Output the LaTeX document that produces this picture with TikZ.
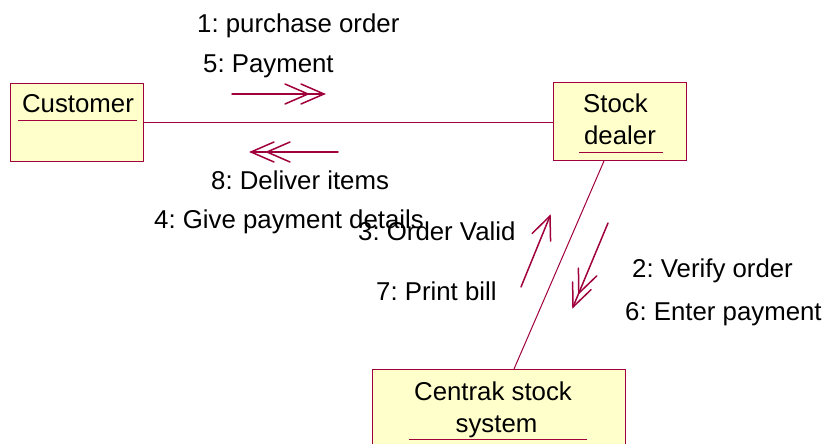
\documentclass[tikz,border=0pt]{standalone}
\usepackage{fontspec}
\setmainfont{Liberation Sans}
\frenchspacing
\usetikzlibrary{calc}
\definecolor{umlred}{RGB}{160,0,60}
\definecolor{umlfill}{RGB}{255,255,204}
\newcommand{\msgchev}[2]{\draw[msg] ($(#1)!23pt!(#2)!10pt!90:(#1)$) -- (#1) -- ($(#1)!23pt!(#2)!10pt!-90:(#1)$);}
\begin{document}
\begin{tikzpicture}[x=1pt,y=-1pt,
  objbox/.style={draw=umlred,fill=umlfill,line width=1.2pt,rectangle,inner sep=0pt,anchor=north west},
  link/.style={draw=umlred,line width=1pt},
  msg/.style={draw=umlred,line width=1.5pt,line cap=round,line join=miter},
  lbl/.style={inner sep=0pt,font=\fontsize{25.8}{30}\selectfont},
  uline/.style={draw=umlred,line width=1pt}]
\useasboundingbox (0,0) rectangle (831,444);
% objects
\node[objbox,minimum width=133pt,minimum height=78pt] (customer) at (10,83) {};
\node[objbox,minimum width=133pt,minimum height=78pt] (dealer) at (553,82) {};
\node[objbox,minimum width=253pt,minimum height=90pt] (centrak) at (372,369) {};
% object names
\node[lbl,anchor=base] (tcust) at (78,113) {Customer};
\node[lbl,anchor=base] (tstock) at (615.5,113) {Stock};
\node[lbl,anchor=base] (tdealer) at (620,145) {dealer};
\node[lbl,anchor=base] (tcentrak) at (493,400) {Centrak stock};
\node[lbl,anchor=base] (tsystem) at (496.5,432) {system};
\coordinate (u1a) at (18,121); \coordinate (u1b) at (137,121);
\coordinate (u2a) at (579,152); \coordinate (u2b) at (663,152);
\coordinate (u3a) at (409,439); \coordinate (u3b) at (587,439);
\draw[uline] (u1a) -- (u1b);
\draw[uline] (u2a) -- (u2b);
\draw[uline] (u3a) -- (u3b);
% links
\coordinate (dl) at (604,161);
\coordinate (cl) at (514,369);
\draw[link] (customer.east |- 0,123) -- (dealer.west |- 0,123);
\draw[link] (dl) -- (cl);
% message arrows
\coordinate (r0) at (232,94); \coordinate (r1) at (324,94); \coordinate (r2) at (308,94);
\draw[msg] (r0) -- (r1); \msgchev{r1}{r0} \msgchev{r2}{r0}
\coordinate (l0) at (338,152); \coordinate (l1) at (251,152); \coordinate (l2) at (267,152);
\draw[msg] (l0) -- (l1); \msgchev{l1}{l0} \msgchev{l2}{l0}
\coordinate (v0) at (521,287); \coordinate (v1) at (550,216);
\draw[msg] (v0) -- (v1); \msgchev{v1}{v0}
\coordinate (w0) at (608,223); \coordinate (w1) at (573,307); \coordinate (w2) at (578.8,293.2);
\draw[msg] (w0) -- (w1); \msgchev{w1}{w0} \msgchev{w2}{w0}
% labels
\node[lbl,anchor=base west] (m1) at (197,33) {1: purchase order};
\node[lbl,anchor=base west] (m5) at (203,73) {5: Payment};
\node[lbl,anchor=base west] (m8) at (211,189) {8: Deliver items};
\node[lbl,anchor=base west] (m4) at (154,228) {4: Give payment details};
\node[lbl,anchor=base west] (m3) at (358,240) {3: Order Valid};
\node[lbl,anchor=base west] (m7) at (376,300) {7: Print bill};
\node[lbl,anchor=base west] (m2) at (632,277) {2: Verify order};
\node[lbl,anchor=base west] (m6) at (625,320) {6: Enter payment};
\end{tikzpicture}
\end{document}
